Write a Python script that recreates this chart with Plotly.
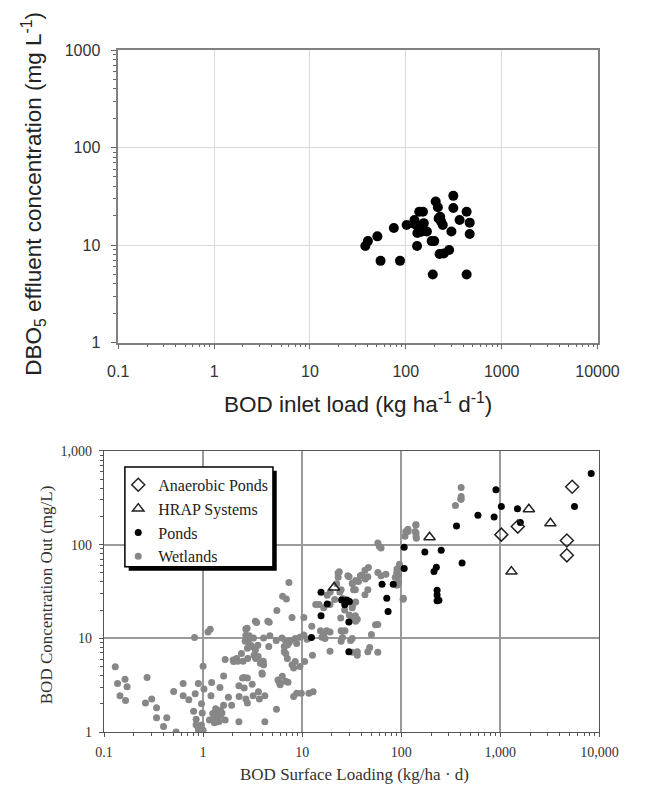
import plotly.graph_objects as go

# ---------------- upper panel: inlet BOD load vs effluent DBO5 ----------------
top_load = [37.8, 40.2, 50.5, 54.5, 75, 87, 102, 123, 129, 132, 131, 138, 151, 154,
            166, 186, 198, 191, 205, 216, 220, 234, 243, 225, 249, 283, 299, 313,
            313, 364, 431, 464, 464, 431, 122, 145, 140, 228]
top_conc = [9.8, 11.0, 12.3, 6.9, 15.0, 6.9, 16.1, 18.1, 16.1, 13.3, 9.8, 22, 22, 16.8,
            13.8, 11.0, 11.0, 5.0, 28, 24.5, 18.8, 17.4, 16.1, 8.1, 8.2, 8.9, 13.8, 32,
            24, 18.1, 22, 17, 13, 5.0, 16.6, 13.7, 15.0, 19.5]

top_xtick_vals = [0.1, 1, 10, 100, 1000, 10000]
top_xtick_text = ["0.1", "1", "10", "100", "1000", "10000"]
top_ytick_vals = [1, 10, 100, 1000]
top_ytick_text = ["1", "10", "100", "1000"]

# ---------------- lower panel: BOD surface loading vs outlet concentration ----------------
wetlands = [
    (0.130, 4.98), (0.137, 3.3), (0.163, 3.66), (0.171, 3.05), (0.145, 2.45), (0.165, 2.18),
    (0.272, 3.82), (0.262, 2.04), (0.303, 2.26), (0.339, 1.82), (0.339, 1.42), (0.430, 1.42),
    (0.399, 1.15), (0.505, 2.71), (0.534, 1.0), (0.629, 3.3), (0.629, 2.45), (0.718, 2.21),
    (0.802, 1.67), (0.832, 2.56), (0.895, 3.3), (0.820, 10.2), (0.851, 1.37), (0.895, 1.10),
    (0.964, 1.19), (0.93, 1.02), (0.9, 1.05), (0.85, 1.2),
    (1.0, 5.06), (1.02, 2.88), (0.964, 2.01), (0.98, 1.6), (1.12, 11.7), (1.18, 12.5),
    (1.20, 2.45), (1.22, 3.39), (1.16, 1.35), (1.25, 1.58), (1.34, 1.78), (1.45, 1.64),
    (1.5, 1.52), (1.61, 1.93), (1.55, 1.6), (1.67, 1.35), (1.39, 1.29), (1.3, 1.26),
    (1.42, 1.45), (1.5, 1.7), (1.35, 1.5), (1.45, 1.3), (1.28, 1.4), (1.0, 1.05),
    (1.48, 3.0), (1.61, 3.98), (1.67, 5.94), (1.8, 2.36), (1.94, 1.93), (2.01, 5.9),
    (2.24, 5.7), (2.3, 3.13), (2.31, 2.4), (2.3, 1.29), (2.6, 3.82), (2.6, 2.95),
    (2.7, 2.26), (2.8, 2.04), (3.13, 3.25), (3.2, 2.45), (3.62, 2.7), (3.7, 2.26),
    (3.95, 4.14), (4.2, 2.45), (4.2, 1.29),
    (2.7, 12.6), (2.7, 10.8), (2.86, 9.2), (2.8, 7.85), (3.08, 8.2), (3.37, 15.2),
    (3.37, 7.5), (3.6, 6.4), (4.05, 5.7), (4.5, 15.2), (4.6, 8.2),
    (7.35, 39.4), (6.34, 28.1), (6.92, 26.4), (5.55, 19.9), (7.9, 16.7), (10.4, 16.7),
    (3.47, 14.8), (4.65, 14.9), (2.78, 12.8), (2.92, 10.7), (3.22, 10.1), (2.66, 9.3),
    (3.03, 8.45), (3.57, 8.45), (4.08, 10.1), (4.72, 10.7), (5.47, 9.5), (6.25, 10.1),
    (6.83, 9.3), (7.6, 9.5), (8.5, 10.0), (8.8, 8.8), (9.5, 10.3), (10.4, 10.9),
    (11.2, 9.8), (12.5, 13.5), (7.35, 9.0), (7.1, 8.5), (6.6, 8.2),
    (12.7, 6.6), (10.6, 5.66), (8.5, 5.66), (7.08, 6.12), (6.83, 6.92), (6.6, 7.2),
    (7.9, 5.22), (8.2, 4.82), (9.5, 5.0), (3.93, 4.28), (3.27, 6.6), (3.39, 6.12),
    (3.79, 5.43), (4.08, 5.22), (2.44, 6.9), (2.18, 6.1), (2.03, 5.66), (2.53, 5.7),
    (2.82, 6.1), (2.5, 3.78), (2.8, 3.78), (6.3, 3.95), (6.8, 3.5), (5.9, 3.36),
    (5.7, 3.6), (8.2, 2.4), (8.8, 2.6), (9.8, 2.6), (11.7, 2.6), (12.9, 2.7),
    (5.5, 1.75), (6.0, 3.2), (7.2, 3.4),
    (15.3, 12.1), (16.5, 11.2), (17.7, 12.1), (19.1, 11.7), (15.8, 10.3), (17.0, 10.0),
    (13.7, 23.0), (24.7, 9.3), (30.8, 9.5), (24.7, 12.1), (19.1, 7.3), (23, 50),
    (24.7, 33), (21.3, 26), (19.1, 23), (16.5, 21.3), (14.8, 23), (29.7, 45.6),
    (32, 38.8), (34.4, 33), (37, 40.4), (40, 47.4), (43, 53.5), (46, 45.6), (46, 33),
    (43, 29.3), (33, 33), (32, 21.3), (34.4, 17.4), (36, 16), (27, 12.1), (32, 10),
    (36, 6.6), (46, 7.2), (36, 7.2), (32, 7.1), (48, 8.0), (58, 7.1), (55, 14), (50, 11),
    (25.5, 10.2), (24.5, 16.5),
    (25.8, 26.6), (28.9, 24.5), (32.2, 22.6), (34.7, 24.5), (26.8, 20.1), (29.9, 17.8),
    (32.2, 15.8), (34.7, 15.2), (46.6, 57), (43.3, 43), (38.7, 46.6), (34.7, 41.4),
    (32.2, 38.2), (28.9, 46.6), (23.7, 51.4), (23.1, 44.8), (22.3, 38.2), (19.2, 31.3),
    (17.9, 28.9), (24, 31.3),
    (58, 104), (62.5, 92), (60, 96), (97, 57), (90, 50.5), (87, 44.8), (62.5, 46.6),
    (70, 48.5), (58, 50.5), (90.6, 55), (94, 47), (94, 40), (90.6, 37), (96, 62),
    (58, 14.1), (104.5, 26.2), (105, 26.8),
    (111, 138), (117, 146), (140, 162), (142, 117), (138, 138), (141, 163), (141, 133),
    (141, 122), (117, 138), (109, 123),
    (352, 262), (402, 408), (402, 327), (402, 306), (399, 307),
]

ponds = [
    (8260, 575), (5600, 256), (1592, 172), (1489, 242), (1023, 256), (903, 386),
    (865, 198), (594, 206), (361, 158), (411, 63.7), (253, 87), (173, 83.6),
    (226, 57.3), (214, 51.6), (230, 32.7), (230, 29), (230, 25.2), (240, 25.5),
    (107, 94), (107, 55.8), (64, 37.8), (83, 37.8), (71.4, 26.8), (73.6, 19.4),
    (15.5, 31), (17.9, 23.3), (15.5, 17.4), (12.4, 10.2), (29.6, 15), (29.6, 7.2),
    (25, 25.7), (28.3, 25.7), (26.9, 22.8), (30, 24.7),
]

hrap = [(21, 35), (193, 120), (1294, 51.6), (1941, 239), (3200, 169)]

anaerobic = [(1023, 128), (1500, 156), (4690, 111), (4690, 77), (5310, 415)]

bot_xtick_vals = [0.1, 1, 10, 100, 1000, 10000]
bot_xtick_text = ["0.1", "1", "10", "100", "1,000", "10,000"]
bot_ytick_vals = [1, 10, 100, 1000]
bot_ytick_text = ["1", "10", "100", "1,000"]


def col(pts, i):
    return [p[i] for p in pts]


SANS = "Liberation Sans, Arial, sans-serif"
SERIF = "Liberation Serif, Times New Roman, serif"
W, H = 648, 792

minor_x = [m * 10.0 ** e for e in range(-1, 4) for m in range(2, 10)]
minor_y = [m * 10.0 ** e for e in range(0, 3) for m in range(2, 10)]

fig = go.Figure()

fig.add_trace(go.Scatter(
    x=top_load, y=top_conc, mode="markers", xaxis="x", yaxis="y",
    marker=dict(color="black", size=10), showlegend=False, hoverinfo="skip"))

fig.add_trace(go.Scatter(
    x=col(wetlands, 0), y=col(wetlands, 1), mode="markers", xaxis="x2", yaxis="y2",
    name="Wetlands", legendrank=4,
    marker=dict(color="#878787", size=7)))
fig.add_trace(go.Scatter(
    x=col(ponds, 0), y=col(ponds, 1), mode="markers", xaxis="x2", yaxis="y2",
    name="Ponds", legendrank=3,
    marker=dict(color="black", size=7)))
fig.add_trace(go.Scatter(
    x=col(hrap, 0), y=col(hrap, 1), mode="markers", xaxis="x2", yaxis="y2",
    name="HRAP Systems", legendrank=2,
    marker=dict(symbol="triangle-up-open", color="#222", size=10, line=dict(width=1.5))))
fig.add_trace(go.Scatter(
    x=col(anaerobic, 0), y=col(anaerobic, 1), mode="markers", xaxis="x2", yaxis="y2",
    name="Anaerobic Ponds", legendrank=1,
    marker=dict(symbol="diamond-open", color="#222", size=10, line=dict(width=1.5))))

top_axis_common = dict(
    type="log", showgrid=True, gridcolor="#dadada", gridwidth=1, zeroline=False,
    showline=True, linecolor="#808080", linewidth=1.5, mirror=True,
    ticks="outside", ticklen=5, tickcolor="#666", tickmode="array",
    tickfont=dict(family=SANS, size=16, color="#333"),
)
bot_axis_common = dict(
    type="log", showgrid=True, gridcolor="#9a9a9a", gridwidth=1.5, zeroline=False,
    showline=True, linecolor="#555", linewidth=1.2, mirror=True,
    ticks="outside", ticklen=4, tickcolor="#555", tickmode="array",
    tickfont=dict(family=SERIF, size=14, color="#333"),
)

fig.update_layout(
    width=W, height=H, margin=dict(l=0, r=0, t=0, b=0),
    paper_bgcolor="white", plot_bgcolor="white",
    xaxis=dict(top_axis_common, domain=[113 / W, 618 / W], range=[-1, 4], anchor="y",
               tickvals=top_xtick_vals, ticktext=top_xtick_text, ticklabelstandoff=8,
               minor=dict(tickmode="array", tickvals=minor_x, ticks="outside",
                          ticklen=3, tickcolor="#666", showgrid=False)),
    yaxis=dict(top_axis_common, domain=[1 - 342 / H, 1 - 43 / H], range=[0, 3], anchor="x",
               tickvals=top_ytick_vals, ticktext=top_ytick_text, ticklabelstandoff=8,
               minor=dict(tickmode="array", tickvals=minor_y, ticks="outside",
                          ticklen=3, tickcolor="#666", showgrid=False)),
    xaxis2=dict(bot_axis_common, domain=[98 / W, 620 / W], range=[-1, 4], anchor="y2",
                tickvals=bot_xtick_vals, ticktext=bot_xtick_text, ticklabelstandoff=3,
                minor=dict(tickmode="array", tickvals=minor_x, ticks="outside",
                           ticklen=3, tickcolor="#555", showgrid=False)),
    yaxis2=dict(bot_axis_common, domain=[1 - 740 / H, 1 - 452.7 / H], range=[0, 3], anchor="x2",
                tickvals=bot_ytick_vals, ticktext=bot_ytick_text, ticklabelstandoff=4,
                minor=dict(tickmode="array", tickvals=minor_y, ticks="outside",
                           ticklen=3, tickcolor="#555", showgrid=False)),
    legend=dict(x=113 / W, y=1 - 470 / H, xanchor="left", yanchor="top",
                bgcolor="rgba(0,0,0,0)", borderwidth=0, itemwidth=30,
                font=dict(family=SERIF, size=16, color="#222")),
    shapes=[
        # legend frame with drop shadow
        dict(type="rect", xref="paper", yref="paper", layer="above",
             x0=124 / W, x1=280 / W, y0=1 - 575 / H, y1=1 - 473 / H,
             fillcolor="black", line=dict(width=0)),
        dict(type="rect", xref="paper", yref="paper", layer="above",
             x0=120 / W, x1=276 / W, y0=1 - 571 / H, y1=1 - 469 / H,
             fillcolor="white", line=dict(color="black", width=1.5)),
    ],
    annotations=[
        dict(text="DBO<sub>5</sub> effluent concentration (mg L<sup>-1</sup>)",
             xref="paper", yref="paper", x=24 / W, y=1 - 190 / H, textangle=-90,
             showarrow=False, xanchor="center", yanchor="middle",
             font=dict(family=SANS, size=22.5, color="#222")),
        dict(text="BOD inlet load (kg ha<sup>-1</sup> d<sup>-1</sup>)",
             xref="paper", yref="paper", x=366 / W, y=1 - 404 / H,
             showarrow=False, xanchor="center", yanchor="middle",
             font=dict(family=SANS, size=22.5, color="#222")),
        dict(text="BOD Concentration Out (mg/L)",
             xref="paper", yref="paper", x=37 / W, y=1 - 600 / H, textangle=-90,
             showarrow=False, xanchor="center", yanchor="middle",
             font=dict(family=SERIF, size=17, color="#333")),
        dict(text="BOD Surface Loading (kg/ha · d)",
             xref="paper", yref="paper", x=362 / W, y=1 - 783 / H,
             showarrow=False, xanchor="center", yanchor="middle",
             font=dict(family=SERIF, size=17, color="#333")),
    ],
)

fig.write_html("out.html")
